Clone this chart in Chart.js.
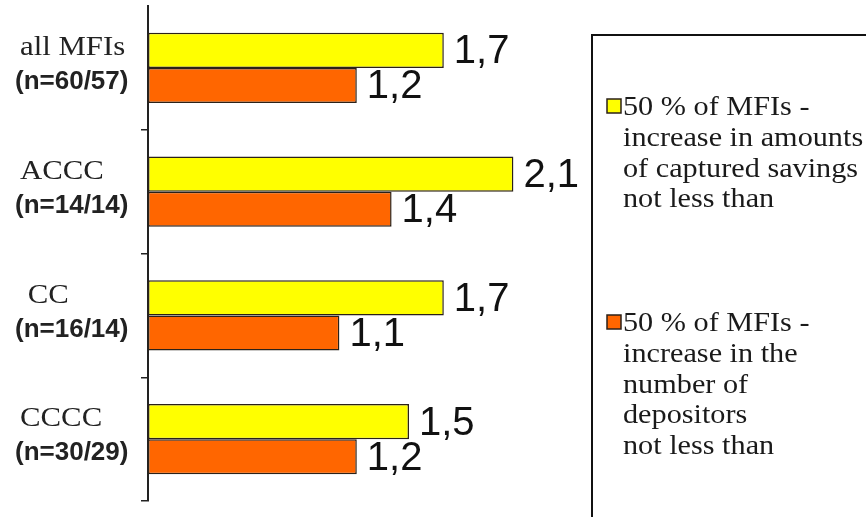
<!DOCTYPE html>
<html>
<head>
<meta charset="utf-8">
<script src="https://cdn.jsdelivr.net/npm/chart.js@4"></script>
<style>
  html, body { margin: 0; padding: 0; background: #ffffff; }
  #wrap { width: 866px; height: 517px; position: relative; }
</style>
</head>
<body>
<div id="wrap"><canvas id="c" width="866" height="517"></canvas></div>
<script>
// Groups of microfinance institutions and their sample sizes
const groupNames = ['all MFIs', 'ACCC', ' CC', 'CCCC'];
const sampleSizes = ['(n=60/57)', '(n=14/14)', '(n=16/14)', '(n=30/29)'];

// Median growth factors (half of the MFIs reached at least this value)
const savingsGrowth = [1.7, 2.1, 1.7, 1.5];
const depositorGrowth = [1.2, 1.4, 1.1, 1.2];

// Legend wording for the two series
const legendSavings = ['50 % of MFIs -', 'increase in amounts', 'of captured savings', 'not less than'];
const legendDepositors = ['50 % of MFIs -', 'increase in the', 'number of', 'depositors', 'not less than'];

const YELLOW = '#ffff00';
const ORANGE = '#ff6600';
const EDGE = '#2b2118';

const fmt = v => v.toFixed(1).replace('.', ',');

const SERIF = '"Liberation Serif", "Times New Roman", serif';
const SANS = '"Liberation Sans", Arial, sans-serif';

// draw text squeezed/stretched horizontally around its left edge
function wideText(ctx, text, x, y, sx) {
  ctx.save();
  ctx.translate(x, y);
  ctx.scale(sx, 1);
  ctx.fillText(text, 0, 0);
  ctx.restore();
}

const decorations = {
  id: 'decorations',
  afterDatasetsDraw(chart) {
    const ctx = chart.ctx;

    // value labels at the bar ends
    chart.data.datasets.forEach((ds, di) => {
      const meta = chart.getDatasetMeta(di);
      meta.data.forEach((bar, i) => {
        ctx.save();
        ctx.font = '40px ' + SANS;
        ctx.fillStyle = '#111111';
        ctx.textBaseline = 'middle';
        ctx.textAlign = 'left';
        ctx.fillText(fmt(ds.data[i]), bar.x + 10, bar.y + 2);
        ctx.restore();
      });
    });

    // two-line category labels left of the axis
    const ys = chart.scales.y;
    groupNames.forEach((name, i) => {
      const cy = ys.getPixelForValue(i);
      ctx.save();
      ctx.fillStyle = '#222222';
      ctx.textAlign = 'left';
      ctx.textBaseline = 'middle';
      ctx.font = '28px ' + SERIF;
      wideText(ctx, name, 20, cy - 20, 1.1);
      ctx.font = 'bold 26px ' + SANS;
      wideText(ctx, sampleSizes[i], 15, cy + 14, 1.0);
      ctx.restore();
    });

    // legend box on the right
    ctx.save();
    ctx.strokeStyle = '#111111';
    ctx.lineWidth = 2;
    ctx.strokeRect(592, 35, 320, 520);
    const entries = [
      { color: YELLOW, lines: legendSavings, base: 115 },
      { color: ORANGE, lines: legendDepositors, base: 331 }
    ];
    ctx.font = '28px ' + SERIF;
    ctx.textBaseline = 'alphabetic';
    entries.forEach(e => {
      ctx.fillStyle = e.color;
      ctx.fillRect(607, e.base - 16, 14, 14);
      ctx.strokeStyle = EDGE;
      ctx.lineWidth = 1.5;
      ctx.strokeRect(607, e.base - 16, 14, 14);
      ctx.fillStyle = '#1a1a1a';
      e.lines.forEach((line, k) => {
        wideText(ctx, line, 623, e.base + k * 30.8, 1.08);
      });
    });
    ctx.restore();
  }
};

new Chart(document.getElementById('c'), {
  type: 'bar',
  data: {
    labels: groupNames,
    datasets: [
      {
        label: legendSavings.join(' '),
        data: savingsGrowth,
        backgroundColor: YELLOW,
        borderColor: EDGE,
        borderWidth: 1.5,
        borderSkipped: false
      },
      {
        label: legendDepositors.join(' '),
        data: depositorGrowth,
        backgroundColor: ORANGE,
        borderColor: EDGE,
        borderWidth: 1.5,
        borderSkipped: false
      }
    ]
  },
  options: {
    indexAxis: 'y',
    responsive: false,
    animation: false,
    devicePixelRatio: 1,
    layout: { padding: { top: 6, bottom: 16, left: 141, right: 283 } },
    datasets: { bar: { categoryPercentage: 0.566, barPercentage: 1 } },
    plugins: {
      legend: { display: false },
      tooltip: { enabled: false },
      title: { display: false }
    },
    scales: {
      x: {
        display: false,
        min: 0,
        max: 2.5
      },
      y: {
        grid: {
          display: true,
          drawOnChartArea: false,
          drawTicks: true,
          tickLength: 7,
          lineWidth: 1.5,
          color: c => (c.index === 0 ? 'rgba(0,0,0,0)' : '#222222')
        },
        border: { display: true, color: '#222222', width: 2 },
        ticks: { display: false }
      }
    }
  },
  plugins: [decorations]
});
</script>
</body>
</html>
